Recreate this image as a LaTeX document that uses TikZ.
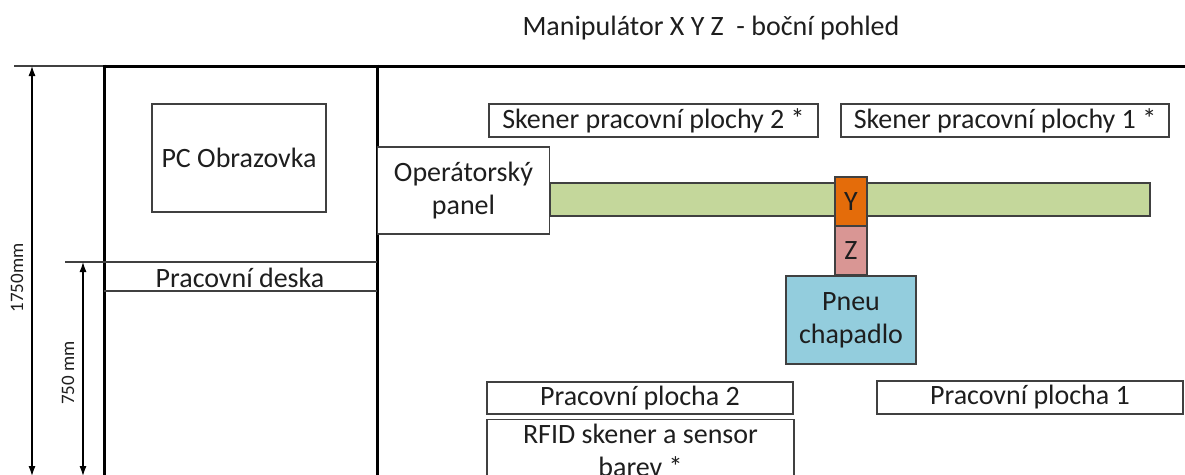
\documentclass[tikz,border=0pt]{standalone}
\usepackage{fontspec}
\setmainfont{Carlito}
\usetikzlibrary{arrows.meta}
\definecolor{edge}{HTML}{404040}
\definecolor{txt}{HTML}{1E1E1E}
\definecolor{barg}{HTML}{C4D79B}
\definecolor{ybox}{HTML}{E46C0A}
\definecolor{zbox}{HTML}{D99694}
\definecolor{pbox}{HTML}{93CDDD}
\tikzset{
  box/.style={draw=edge, line width=1.3pt, rectangle, inner sep=0pt, align=center, text=txt,
              font=\fontsize{28}{33}\selectfont},
  frame/.style={draw=black, line width=3pt},
  thin/.style={draw=edge, line width=1.2pt},
  dim/.style={draw=black, line width=1.1pt, {Latex[length=10pt,width=7pt]}-{Latex[length=10pt,width=7pt]}},
  lbl/.style={text=txt, font=\fontsize{28}{33}\selectfont, inner sep=0pt},
  dimlbl/.style={text=txt, font=\fontsize{19}{22}\selectfont, inner sep=0pt, rotate=90},
}
\begin{document}
\begin{tikzpicture}[x=1pt,y=-1pt]
\useasboundingbox (0,0) rectangle (1185,474);
\clip (0,0) rectangle (1185,474);
% title
\node[lbl] (title) at (711,28) {Manipulátor X Y Z\ \ - boční pohled};
% frame
\coordinate (ext) at (14,66);
\coordinate (tl) at (104,66);
\coordinate (tm) at (377,66);
\coordinate (tr) at (1185,66);
\coordinate (bl) at (104,476);
\coordinate (bm) at (377,476);
\draw[thin] (ext) -- (tl);
\draw[frame] (tl) -- (tr);
\draw[frame] (104,64.5) -- (bl);
\draw[frame] (377,64.5) -- (bm);
% desk
\coordinate (dk0) at (65,262);
\coordinate (dk1) at (377,262);
\coordinate (dk2) at (104,291);
\coordinate (dk3) at (377,291);
\draw[thin] (dk0) -- (dk1);
\draw[thin] (dk2) -- (dk3);
\node[lbl] (deska) at (240,278) {Pracovní deska};
% dimensions
\coordinate (d1a) at (32,66);
\coordinate (d1b) at (32,476);
\draw[dim] (d1a) -- (d1b);
\node[dimlbl] (l1750) at (17,278) {1750mm};
\coordinate (d2a) at (83,262);
\coordinate (d2b) at (83,476);
\draw[dim] (d2a) -- (d2b);
\node[dimlbl] (l750) at (68,373) {750 mm};
% boxes
\node[box, minimum width=174, minimum height=108] (pc) at (239,158) {PC Obrazovka};
\node[box, fill=white, minimum width=172, minimum height=87] (op) at (463.5,190.5) {\raisebox{-3pt}{Operátorský}\\\raisebox{-3pt}{panel}};
\node[box, minimum width=329, minimum height=33] (sk2) at (653.5,120.5) {Skener pracovní plochy 2 *};
\node[box, minimum width=328, minimum height=33] (sk1) at (1005,120.5) {Skener pracovní plochy 1 *};
\node[box, fill=barg, minimum width=600, minimum height=33] (bar) at (850,199.5) {};
\node[box, fill=ybox, minimum width=32, minimum height=49] (y) at (851,201.5) {Y};
\node[box, fill=zbox, minimum width=32, minimum height=49] (z) at (851,250.5) {Z};
\node[box, fill=pbox, minimum width=130, minimum height=88] (pneu) at (851,320) {\raisebox{-3pt}{Pneu}\\\raisebox{-3pt}{chapadlo}};
\node[box, minimum width=306, minimum height=32] (pp2) at (640,398) {Pracovní plocha 2};
\node[box, minimum width=306, minimum height=33] (pp1) at (1030,397.5) {Pracovní plocha 1};
\node[box, minimum width=307, minimum height=62, anchor=north] (rfid) at (640.5,419) {RFID skener a sensor\\barev *};
\end{tikzpicture}
\end{document}
